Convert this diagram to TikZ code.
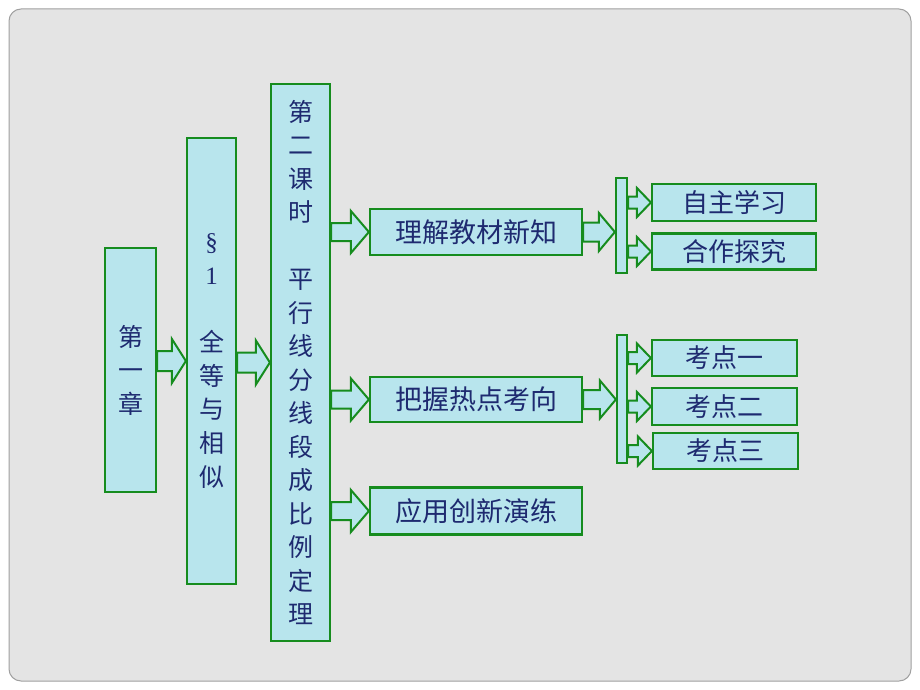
\documentclass[tikz,border=0pt]{standalone}
\usepackage{fontspec}
\usetikzlibrary{calc}
\newfontfamily\cjk{Noto Sans CJK SC}
\newfontfamily\serifl{Liberation Serif}
\definecolor{bgg}{RGB}{228,228,228}
\definecolor{frameg}{RGB}{160,160,160}
\definecolor{boxfill}{RGB}{184,229,237}
\definecolor{boxline}{RGB}{22,140,30}
\definecolor{txt}{RGB}{30,42,112}
\tikzset{
  box/.style={draw=boxline, line width=2.2pt, fill=boxfill, inner sep=0pt, text=txt, align=center, font=\cjk},
  arr/.style={draw=boxline, line width=2pt, fill=boxfill, line join=miter},
}
% block arrow: from node #1 east to node #2 west, at height of #3, shaft half #4, head half #5, head length #6
\newcommand\barrow[6]{%
  \draw[arr] let \p1=(#1.east), \p2=(#2.west), \p3=(#3) in
    (\x1,\y3+#4) -- (\x2-#6,\y3+#4) -- (\x2-#6,\y3+#5) -- (\x2,\y3) --
    (\x2-#6,\y3-#5) -- (\x2-#6,\y3-#4) -- (\x1,\y3-#4) -- cycle;}
\begin{document}
\begin{tikzpicture}[x=1pt,y=-1pt]
\useasboundingbox (0,0) rectangle (920,690);
\fill[white] (0,0) rectangle (920,690);
\draw[frameg, fill=bgg, line width=1pt, rounded corners=12pt] (9,9) rectangle (911,681);

% level 0/1 vertical boxes
\node[box, minimum width=51, minimum height=244, font=\cjk\fontsize{25}{33.5}\selectfont] (a) at (130.5,370) {第\\一\\章};
\node[box, minimum width=49, minimum height=446, font=\cjk\fontsize{25}{33.6}\selectfont] (b) at (211.5,361) {{\serifl §}\\{\serifl 1}\\[33.6pt]全\\等\\与\\相\\似};
\node[box, minimum width=59, minimum height=557, font=\cjk\fontsize{25}{33.5}\selectfont] (c) at (300.5,362.5) {第\\二\\课\\时\\[33.5pt]平\\行\\线\\分\\线\\段\\成\\比\\例\\定\\理};

% level 2
\node[box, minimum width=212, minimum height=46, font=\cjk\fontsize{27}{30}\selectfont] (l1) at (476,232) {理解教材新知};
\node[box, minimum width=212, minimum height=45, font=\cjk\fontsize{27}{30}\selectfont] (l2) at (476,399.5) {把握热点考向};
\node[box, minimum width=212, minimum height=47, font=\cjk\fontsize{27}{30}\selectfont] (l3) at (476,511) {应用创新演练};

% bars
\node[box, minimum width=11, minimum height=95] (bar1) at (621.5,225.5) {};
\node[box, minimum width=10, minimum height=128] (bar2) at (622,399) {};

% level 3
\node[box, minimum width=164, minimum height=37, font=\cjk\fontsize{26}{28}\selectfont] (m1) at (734,202.5) {自主学习};
\node[box, minimum width=164, minimum height=36, font=\cjk\fontsize{26}{28}\selectfont] (m2) at (734,251.5) {合作探究};
\node[box, minimum width=145, minimum height=36, font=\cjk\fontsize{26}{28}\selectfont] (k1) at (724.5,358) {考点一};
\node[box, minimum width=145, minimum height=37, font=\cjk\fontsize{26}{28}\selectfont] (k2) at (724.5,406.5) {考点二};
\node[box, minimum width=145, minimum height=36, font=\cjk\fontsize{26}{28}\selectfont] (k3) at (725.5,451) {考点三};

% arrows
\barrow{a}{b}{b.west}{10}{22}{14}
\barrow{b}{c}{c.west}{10}{22}{14}
\barrow{c}{l1}{l1.west}{9}{21}{18}
\barrow{c}{l2}{l2.west}{9}{21}{18}
\barrow{c}{l3}{l3.west}{9}{21}{18}
\barrow{l1}{bar1}{l1.east}{9.5}{19}{16}
\barrow{l2}{bar2}{l2.east}{9.5}{19}{16}
\barrow{bar1}{m1}{m1.west}{6}{14.5}{14}
\barrow{bar1}{m2}{m2.west}{6}{14.5}{14}
\barrow{bar2}{k1}{k1.west}{6}{14.5}{14}
\barrow{bar2}{k2}{k2.west}{6}{14.5}{14}
\barrow{bar2}{k3}{k3.west}{6}{14.5}{14}
\end{tikzpicture}
\end{document}
